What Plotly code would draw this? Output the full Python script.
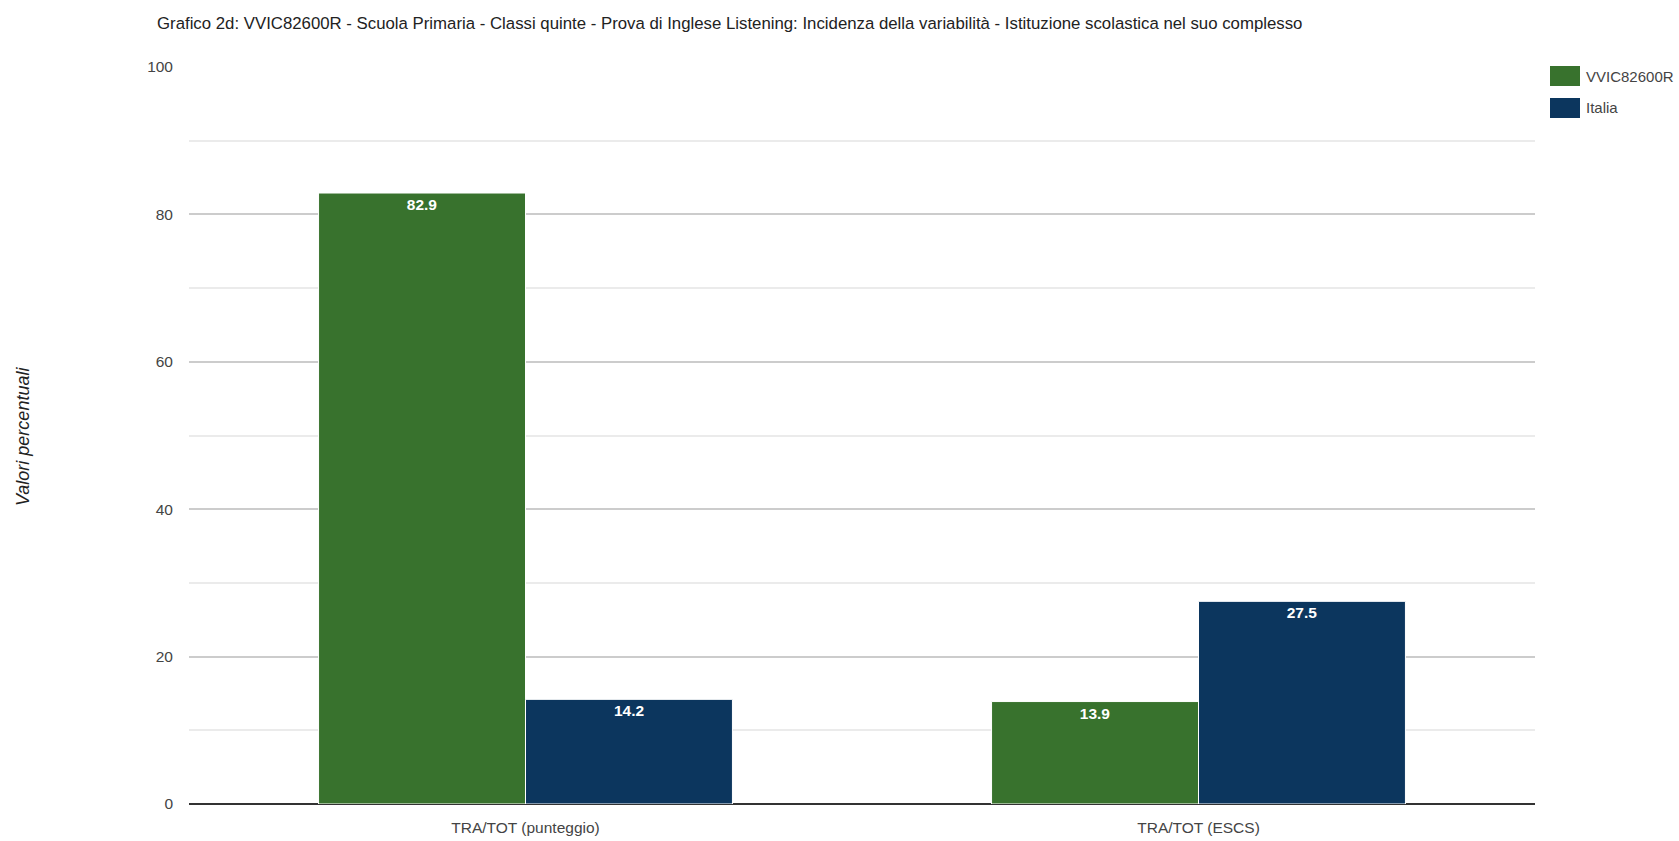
import plotly.graph_objects as go

categories = ["TRA/TOT (punteggio)", "TRA/TOT (ESCS)"]
series_names = ["VVIC82600R", "Italia"]
values_school = [82.9, 13.9]
values_italia = [14.2, 27.5]
y_ticks = [0, 20, 40, 60, 80, 100]

colors = ["#38722d", "#0c365e"]
FONT = "Liberation Sans Narrow, Arial Narrow, Liberation Sans, Arial, sans-serif"

W, H = 1679, 841
L, R, T, B = 189, 144, 67, 37
pw = W - L - R
ph = H - T - B

fig = go.Figure()
for name, vals, col in zip(series_names, [values_school, values_italia], colors):
    fig.add_trace(go.Bar(
        x=categories, y=vals, name=name,
        marker=dict(color=col, line=dict(color="white", width=1)),
        texttemplate="<b>%{y:.1f}</b>", textposition="inside", insidetextanchor="end",
        textfont=dict(color="white", size=15.5, family=FONT),
        showlegend=False,
    ))

fig.update_layout(
    width=W, height=H,
    margin=dict(l=L, r=R, t=T, b=B),
    plot_bgcolor="white", paper_bgcolor="white",
    barmode="group", bargap=0.385, bargroupgap=0.0,
    font=dict(family=FONT, color="#444444"),
    title=dict(
        text="Grafico 2d: VVIC82600R - Scuola Primaria - Classi quinte - Prova di Inglese Listening: Incidenza della variabilità - Istituzione scolastica nel suo complesso",
        xref="container", yref="container", x=157 / W, xanchor="left",
        y=1 - 23.5 / H, yanchor="middle",
        font=dict(family=FONT, size=16.8, color="#222222"),
    ),
    xaxis=dict(
        showgrid=False, tickfont=dict(size=15.5, color="#444444"),
        ticks="", showline=False, ticklabelstandoff=12, automargin=False,
    ),
    yaxis=dict(
        range=[0, 100], tickvals=y_ticks, ticktext=[str(v) for v in y_ticks],
        showgrid=True, gridcolor="#cccccc", gridwidth=1.5,
        minor=dict(dtick=10, tick0=0, showgrid=True, gridcolor="#ebebeb", gridwidth=1.5),
        zeroline=True, zerolinecolor="#333333", zerolinewidth=2,
        tickfont=dict(size=15.5, color="#444444"), ticks="", ticklabelstandoff=15,
        automargin=False,
    ),
)

# y axis title as rotated italic text
fig.add_annotation(
    text="<i>Valori percentuali</i>", xref="paper", yref="paper",
    x=(23 - L) / pw, y=(H - B - 437) / ph, xanchor="center", yanchor="middle",
    textangle=-90, showarrow=False, font=dict(family=FONT, size=18, color="#222222"),
)

# manual legend
leg_x0 = 1550
for i, (name, col) in enumerate(zip(series_names, colors)):
    yc = 76 + i * 32
    fig.add_shape(
        type="rect", xref="paper", yref="paper",
        x0=(leg_x0 - L) / pw, x1=(leg_x0 + 30 - L) / pw,
        y0=(H - B - (yc + 10)) / ph, y1=(H - B - (yc - 10)) / ph,
        fillcolor=col, line=dict(width=0),
    )
    fig.add_annotation(
        text=name, xref="paper", yref="paper",
        x=(leg_x0 + 34 - L) / pw, y=(H - B - yc) / ph, xanchor="left", yanchor="middle",
        showarrow=False, font=dict(family=FONT, size=15, color="#444444"),
    )

fig.write_html(
    "out.html",
    config={"displayModeBar": False},
    post_script="document.body.style.margin='0';document.body.style.padding='0';",
)
